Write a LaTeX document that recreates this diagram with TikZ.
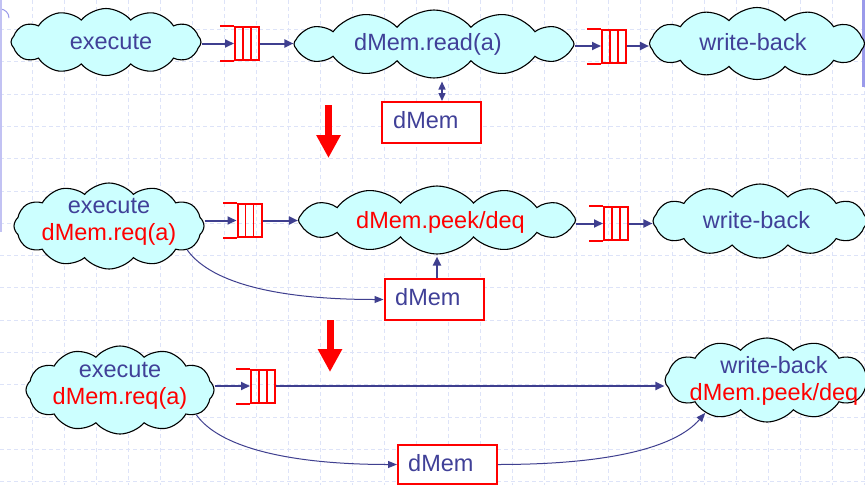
\documentclass[tikz,border=0pt]{standalone}
\usepackage{fontspec}
\setmainfont{Liberation Sans}
\usetikzlibrary{shapes.symbols,arrows.meta}
\definecolor{tblue}{HTML}{404098}
\definecolor{ablue}{HTML}{3F3F8F}
\definecolor{cfill}{HTML}{CCFFFF}
\definecolor{gridc}{HTML}{DDE3F8}
\definecolor{decob}{HTML}{9A9AEA}
\begin{document}
\begin{tikzpicture}[x=1pt,y=-1pt,
  cloudnode/.style={cloud, cloud puffs=12, cloud puff arc=100, cloud ignores aspect,
    draw=black, line width=1.1pt, fill=cfill, inner sep=0pt},
  lbl/.style={font=\fontsize{23.5}{27}\selectfont, text=tblue, inner sep=0pt, anchor=base},
  rlbl/.style={lbl, text=red},
  memory/.style={draw=red, line width=2pt, fill=white, minimum width=99pt, minimum height=41pt, inner sep=0pt},
  queuebox/.style={draw=red, line width=2pt, minimum width=24pt, minimum height=33pt, inner sep=0pt,
    path picture={\draw[red,line width=1.6pt]
      ([xshift=8pt]path picture bounding box.north west) -- ([xshift=8pt]path picture bounding box.south west)
      ([xshift=16pt]path picture bounding box.north west) -- ([xshift=16pt]path picture bounding box.south west);}},
  qline/.style={draw=red, line width=2pt},
  conn/.style={draw=ablue, line width=2pt, -{Triangle[length=9pt,width=8pt]}},
  thinconn/.style={draw=ablue, line width=1pt, -{Triangle[length=9pt,width=7pt]}},
  dblconn/.style={draw=ablue, line width=1.5pt, {Triangle[length=8pt,width=7pt]}-{Triangle[length=8pt,width=7pt]}},
  bigarrow/.style={draw=red, line width=7pt, -{Triangle[length=23pt,width=23pt]}},
  gridline/.style={draw=gridc, line width=1pt, dash pattern=on 4pt off 3pt}
]
\useasboundingbox (0,0) rectangle (865,485);
\clip (0,0) rectangle (865,485);
\fill[white] (0,0) rectangle (865,485);
% background grid
\foreach \gx in {32,64,...,864} \draw[gridline] (\gx,0) -- (\gx,485);
\foreach \k in {0,...,14} {\pgfmathsetmacro{\gy}{29.5+32.3*\k}\draw[gridline] (0,\gy) -- (865,\gy);}
% slide decorations
\draw[decob, line width=1pt] (0,9) arc[start angle=90, end angle=0, radius=9pt];
\draw[decob!60, line width=2pt] (1,0) -- (1,232);
\fill[decob] (862,0) rectangle (865,87);

% ---------- row 1 ----------
\node[cloudnode, minimum width=190pt, minimum height=67pt] (c1) at (106,42) {};
\node[lbl] (t1) at (111,49) {execute};
\node[queuebox] (q1) at (247,43.5) {};
\draw[qline] (q1.north west) -- ++(-14,0) (q1.south west) -- ++(-14,0);
\node[cloudnode, minimum width=280pt, minimum height=68pt] (c2) at (434,44) {};
\node[lbl] (t2) at (428,50) {dMem.read(a)};
\node[queuebox] (q2) at (614,46) {};
\draw[qline] (q2.north west) -- ++(-14,0) (q2.south west) -- ++(-14,0);
\node[cloudnode, minimum width=215pt, minimum height=72pt] (c3) at (757,43.5) {};
\node[lbl] (t3) at (753,50) {write-back};
\node[memory] (b1) at (431.5,122.5) {};
\node[lbl, anchor=base west] (tb1) at (393,128) {dMem};

\draw[conn] (c1.east |- q1.west) -- (q1.west);
\draw[conn] (q1.east) -- (c2.west |- q1.east);
\draw[conn] (c2.east |- q2.west) -- (q2.west);
\draw[conn] (q2.east) -- (c3.west |- q2.east);
\draw[dblconn] ([xshift=10.5pt]b1.north) -- ([xshift=10.5pt,yshift=-3pt]b1.north |- c2.south);

\coordinate (r1s) at (328.5,105);
\coordinate (r1e) at (328.5,158);
\draw[bigarrow] (r1s) -- (r1e);

% ---------- row 2 ----------
\node[cloudnode, minimum width=190pt, minimum height=86pt] (c4) at (109,226) {};
\node[lbl, align=center] (t4) at (109,240) {execute\\\textcolor{red}{dMem.req(a)}};
\node[queuebox] (q3) at (249.5,220.5) {};
\draw[qline] (q3.north west) -- ++(-14,0) (q3.south west) -- ++(-14,0);
\node[cloudnode, minimum width=277pt, minimum height=68pt] (c5) at (437,220) {};
\node[rlbl] (t5) at (440.5,228) {dMem.peek/deq};
\node[queuebox] (q4) at (616,223.5) {};
\draw[qline] (q4.north west) -- ++(-14,0) (q4.south west) -- ++(-14,0);
\node[cloudnode, minimum width=214pt, minimum height=74pt] (c6) at (760,221) {};
\node[lbl] (t6) at (756.5,228) {write-back};
\node[memory] (b2) at (434,299.5) {};
\node[lbl, anchor=base west] (tb2) at (395,305) {dMem};

\draw[conn] (c4.east |- q3.west) -- (q3.west);
\draw[conn] (q3.east) -- (c5.west |- q3.east);
\draw[conn] (c5.east |- q4.west) -- (q4.west);
\draw[conn] (q4.east) -- (c6.west |- q4.east);
\draw[conn] ([xshift=3pt]b2.north) -- ([xshift=3pt,yshift=-2pt]b2.north |- c5.south);
\draw[thinconn] (c4.-17) .. controls +(25,35) and +(-100,0) .. (b2.west);

\coordinate (r2s) at (330,320);
\coordinate (r2e) at (330,372);
\draw[bigarrow] (r2s) -- (r2e);

% ---------- row 3 ----------
\node[cloudnode, minimum width=188pt, minimum height=88pt] (c7) at (120,390) {};
\node[lbl, align=center] (t7) at (120,404) {execute\\\textcolor{red}{dMem.req(a)}};
\node[queuebox] (q5) at (263,386) {};
\draw[qline] (q5.north west) -- ++(-14,0) (q5.south west) -- ++(-14,0);
\node[cloudnode, minimum width=204pt, minimum height=84pt] (c8) at (767,380) {};
\node[lbl, align=center] (t8) at (774,400) {write-back\\\textcolor{red}{dMem.peek/deq}};
\node[memory, minimum height=39pt] (b3) at (447.5,464.5) {};
\node[lbl, anchor=base west] (tb3) at (408,471) {dMem};

\draw[conn] (c7.east |- q5.west) -- (q5.west);
\draw[conn] (q5.east) -- (c8.west |- q5.east);
\draw[thinconn] (c7.-18) .. controls +(25,35) and +(-100,0) .. (b3.west);
\draw[thinconn] (b3.east) .. controls +(110,0) and +(-30,35) .. (c8.208);
\end{tikzpicture}
\end{document}
